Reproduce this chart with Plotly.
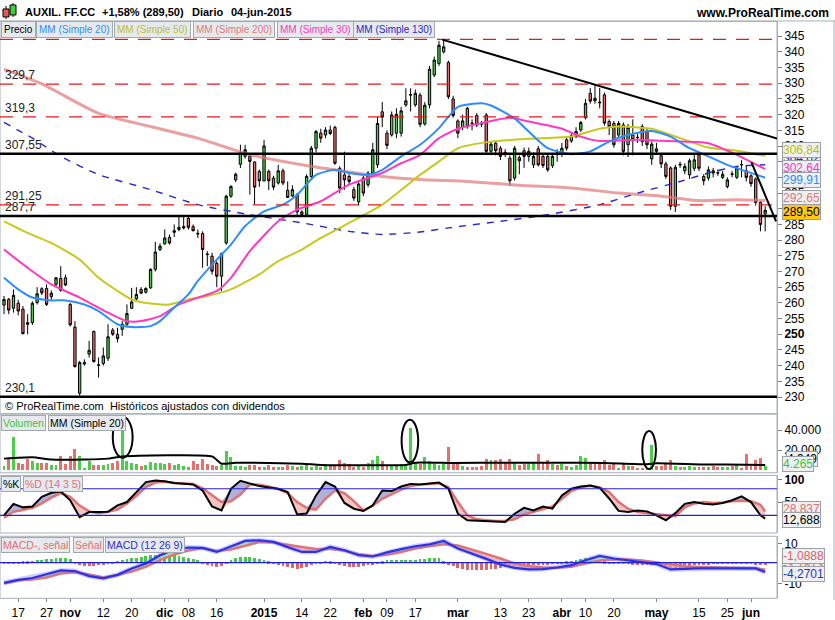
import plotly.graph_objects as go
import pandas as pd

# ---------------- data ----------------
holidays = ['2014-12-25', '2014-12-26', '2015-01-01', '2015-04-03', '2015-04-06', '2015-05-01']
dates = [d.strftime('%Y-%m-%d') for d in pd.bdate_range('2014-10-14', '2015-06-04')
         if d.strftime('%Y-%m-%d') not in holidays]
idx = list(range(len(dates)))

opens = [259.3, 261.1, 258.3, 259.9, 258.0, 253.7, 253.7, 260.1, 264.5, 264.6,
         262.0, 265.9, 267.8, 268.0, 259.5, 252.3, 231.2, 240.5, 243.7, 250.9,
         240.3, 240.7, 242.4, 251.3, 250.0, 251.6, 253.2, 258.3, 261.3, 264.3,
         263.4, 264.8, 270.7, 277.0, 278.8, 280.9, 282.5, 283.4, 283.9, 286.9,
         284.3, 282.2, 282.1, 275.6, 274.9, 272.6, 268.5, 279.1, 294.0, 299.2,
         304.2, 306.7, 306.7, 304.9, 301.9, 298.9, 301.9, 299.8, 298.2, 302.1,
         295.9, 294.1, 294.5, 288.2, 288.2, 300.3, 309.3, 314.1, 313.5, 315.1,
         315.9, 302.9, 300.8, 300.3, 296.1, 292.2, 299.8, 297.7, 301.4, 304.0,
         320.9, 314.1, 313.5, 314.1, 314.1, 323.1, 326.2, 323.1, 326.2, 317.0,
         323.1, 332.6, 336.3, 340.0, 336.6, 325.0, 318.0, 315.9, 322.0, 317.3,
         319.7, 317.3, 319.9, 308.3, 310.9, 309.3, 308.0, 306.1, 299.8, 306.3,
         308.5, 306.7, 304.0, 309.1, 306.7, 306.7, 303.8, 307.8, 307.7, 312.0,
         311.6, 313.0, 315.1, 319.0, 326.8, 325.2, 324.0, 326.3, 317.8, 317.2,
         313.5, 316.7, 310.4, 313.5, 312.8, 316.2, 314.6, 305.9, 309.1, 306.9,
         304.3, 303.0, 290.8, 304.2, 302.1, 300.8, 302.9, 307.2, 300.3, 299.8,
         302.1, 301.5, 300.0, 297.1, 301.1, 300.0, 304.1, 302.1, 300.5, 299.5,
         292.0, 288.4]
highs = [262.2, 261.6, 264.3, 261.0, 259.0, 256.4, 260.5, 265.0, 265.0, 265.9,
         264.0, 268.2, 271.7, 269.0, 260.0, 254.2, 241.5, 242.0, 247.9, 251.2,
         242.6, 245.8, 253.2, 252.0, 252.1, 254.2, 259.5, 264.8, 265.0, 265.0,
         265.0, 271.0, 279.5, 279.0, 283.4, 281.8, 285.0, 287.6, 287.6, 287.6,
         285.0, 283.4, 282.8, 276.5, 276.0, 273.3, 276.0, 294.5, 297.5, 301.5,
         310.4, 310.4, 307.2, 305.1, 302.5, 311.9, 302.5, 300.5, 304.0, 302.8,
         298.7, 297.5, 295.0, 289.5, 301.0, 310.0, 315.1, 315.5, 316.0, 316.5,
         316.5, 303.5, 308.2, 301.0, 297.0, 299.0, 300.5, 302.0, 311.0, 319.3,
         324.0, 315.0, 321.0, 322.0, 322.5, 328.4, 328.4, 328.0, 327.0, 324.0,
         335.5, 338.5, 343.5, 344.0, 337.2, 326.0, 318.5, 320.0, 322.5, 318.5,
         320.5, 318.0, 320.5, 311.5, 311.5, 310.0, 309.0, 307.0, 310.0, 307.0,
         309.5, 309.5, 308.0, 310.0, 307.5, 307.2, 307.5, 309.0, 311.0, 313.0,
         314.0, 316.0, 318.0, 325.0, 328.5, 329.5, 328.5, 327.0, 318.5, 318.0,
         318.0, 317.5, 317.0, 318.5, 314.0, 317.0, 315.5, 311.5, 311.0, 307.5,
         305.0, 303.5, 304.0, 305.0, 304.5, 306.0, 307.5, 308.0, 301.0, 303.5,
         303.0, 302.5, 302.0, 300.0, 302.0, 303.5, 305.5, 304.0, 301.0, 300.0,
         292.5, 290.8]
lows = [256.4, 256.4, 256.9, 256.0, 250.0, 250.0, 253.0, 259.5, 262.5, 259.0,
        261.0, 265.0, 263.6, 265.4, 252.5, 239.4, 230.4, 240.0, 242.6, 241.0,
        236.2, 240.0, 241.5, 249.5, 247.4, 249.5, 252.7, 258.0, 260.6, 262.8,
        263.0, 264.5, 270.0, 276.5, 278.6, 278.6, 281.0, 282.8, 283.4, 283.4,
        282.8, 280.7, 271.2, 271.7, 269.0, 265.0, 263.8, 278.5, 293.5, 298.5,
        303.0, 306.0, 294.5, 291.3, 297.0, 298.7, 296.0, 296.0, 297.7, 297.5,
        293.4, 293.7, 288.0, 287.8, 287.8, 299.5, 308.0, 311.0, 312.5, 313.5,
        304.0, 295.0, 296.1, 297.5, 292.5, 291.0, 294.0, 296.9, 300.5, 303.0,
        316.0, 309.0, 313.0, 312.5, 313.0, 322.5, 321.0, 322.5, 316.0, 316.5,
        322.0, 332.0, 335.5, 339.5, 325.0, 319.0, 312.5, 315.0, 315.5, 315.0,
        316.0, 316.0, 307.5, 307.5, 307.0, 305.5, 306.5, 297.3, 299.0, 301.0,
        303.0, 305.0, 303.0, 303.5, 303.0, 301.8, 303.0, 305.0, 306.5, 308.5,
        311.0, 312.5, 314.5, 318.5, 323.5, 323.5, 322.0, 316.5, 313.5, 309.5,
        312.5, 307.0, 306.5, 307.0, 311.0, 310.0, 309.0, 304.0, 307.5, 303.0,
        299.5, 289.6, 289.0, 303.0, 301.0, 299.5, 302.0, 302.0, 297.5, 299.0,
        300.0, 300.5, 299.5, 296.5, 300.0, 299.5, 300.0, 298.7, 297.0, 291.0,
        282.8, 282.8]
closes = [261.1, 257.7, 262.4, 257.4, 250.2, 253.2, 259.9, 262.9, 263.2, 259.5,
          263.1, 268.0, 264.0, 265.7, 253.0, 239.7, 241.0, 241.0, 244.9, 241.3,
          240.1, 243.1, 249.2, 250.0, 248.6, 253.2, 256.6, 260.3, 262.7, 263.1,
          264.6, 270.7, 276.2, 278.1, 280.7, 279.1, 283.0, 284.1, 284.3, 284.1,
          283.0, 282.0, 277.0, 275.4, 270.1, 268.5, 275.7, 294.0, 297.1, 301.0,
          307.7, 308.8, 305.1, 296.9, 298.9, 310.0, 298.9, 296.9, 302.1, 298.2,
          293.6, 296.1, 289.0, 289.0, 300.3, 309.3, 314.6, 312.5, 315.1, 314.0,
          304.5, 296.6, 299.2, 298.7, 293.4, 297.9, 295.0, 301.4, 308.8, 317.2,
          319.2, 310.2, 319.9, 320.1, 321.2, 324.4, 326.4, 326.8, 316.9, 323.0,
          334.5, 337.4, 342.1, 341.6, 325.7, 319.7, 314.1, 318.0, 316.2, 317.2,
          316.7, 317.0, 308.3, 310.6, 308.5, 306.7, 307.8, 298.9, 309.3, 305.3,
          306.7, 308.3, 306.7, 304.0, 303.8, 302.4, 306.7, 307.7, 309.3, 309.3,
          313.3, 314.6, 317.5, 323.6, 324.3, 324.4, 323.8, 317.3, 316.2, 310.4,
          317.2, 308.3, 315.9, 312.0, 312.7, 311.4, 310.4, 310.6, 308.3, 304.3,
          300.3, 290.8, 303.2, 304.0, 303.5, 305.3, 305.6, 302.9, 298.9, 302.4,
          301.4, 301.4, 301.0, 299.2, 301.0, 303.0, 304.0, 300.0, 298.0, 292.0,
          285.0, 289.5]
volume_k = [4.1, 10.5, 32.7, 7.3, 5.7, 10.5, 8.9, 7.3, 7.3, 6.7,
            5.1, 5.1, 14.3, 5.7, 13.6, 20.9, 13.6, 1.9, 8.9, 5.1,
            5.1, 5.1, 6.3, 7.3, 8.9, 46.9, 8.9, 7.3, 5.7, 4.1,
            5.1, 8.2, 7.3, 7.3, 5.7, 6.7, 5.1, 6.3, 4.1, 3.2,
            8.9, 5.7, 10.5, 6.3, 5.1, 4.1, 5.1, 19.0, 13.0, 4.1,
            4.1, 2.5, 4.4, 4.4, 3.2, 2.5, 4.4, 3.2, 3.2, 3.2,
            5.1, 3.8, 3.2, 3.8, 4.4, 2.5, 4.1, 3.2, 5.7, 5.1,
            4.1, 9.5, 7.3, 5.7, 3.2, 4.1, 3.2, 7.3, 9.5, 13.6,
            8.9, 5.1, 4.4, 4.1, 5.7, 5.1, 42.2, 7.3, 6.0, 12.7,
            8.9, 5.7, 5.1, 5.7, 22.5, 7.3, 7.3, 4.1, 3.2, 3.2,
            3.2, 4.1, 10.5, 9.5, 9.5, 10.5, 7.3, 10.5, 7.3, 5.1,
            6.3, 7.3, 7.3, 15.9, 7.3, 9.5, 6.3, 5.1, 5.7, 4.1,
            3.2, 5.1, 13.6, 11.4, 7.3, 7.3, 7.3, 9.5, 5.1, 7.3,
            1.9, 7.3, 4.1, 4.1, 1.9, 1.9, 1.9, 25.4, 4.1, 4.1,
            5.7, 9.5, 4.1, 2.5, 3.2, 4.1, 3.2, 2.5, 3.2, 2.5,
            4.1, 3.2, 3.2, 3.2, 4.1, 5.7, 1.9, 15.9, 4.1, 9.5,
            11.4, 4.265]
volumes = [v * 1000 for v in volume_k]

# moving averages
mm20_i = [0, 3, 6, 10, 13, 17, 20, 24, 27, 31, 33, 36, 39, 41, 45, 48, 51, 55, 59, 62, 66, 70, 73, 77,
          80, 84, 88, 92, 96, 101, 103, 108, 111, 115, 120, 124, 128, 132, 137, 141, 145, 149, 153, 157, 161]
mm20_v = [268.0, 264.3, 261.7, 260.8, 260.8, 259.5, 257.4, 253.2, 252.3, 252.6, 254.2, 258.5, 262.7, 267.0,
          273.8, 278.6, 284.5, 289.2, 291.3, 294.5, 300.8, 302.4, 301.4, 300.8, 302.4, 306.7, 310.4, 315.7,
          322.5, 323.6, 322.9, 318.8, 314.6, 309.3, 307.4, 308.3, 311.4, 313.5, 314.8, 313.0, 309.3, 306.7,
          304.0, 301.9, 299.91]
mm30_i = [0, 5, 10, 16, 22, 26, 29, 33, 37, 41, 45, 48, 52, 55, 58, 62, 67, 73, 80, 84, 88, 92, 96, 101,
          107, 111, 118, 122, 126, 134, 143, 149, 155, 161]
mm30_v = [277.0, 271.2, 265.9, 261.7, 256.9, 254.2, 254.2, 255.8, 259.5, 261.7, 263.8, 268.0, 276.5, 281.5,
          286.0, 289.7, 292.4, 297.7, 301.4, 304.5, 307.2, 312.5, 315.5, 317.3, 319.0, 317.8, 315.5, 313.0,
          311.6, 312.0, 311.4, 310.9, 307.2, 302.64]
mm50_i = [0, 5, 10, 16, 20, 24, 27, 31, 35, 39, 43, 48, 54, 58, 63, 67, 73, 80, 88, 92, 96, 103, 111, 120,
          126, 130, 137, 143, 149, 155, 161]
mm50_v = [286.0, 282.3, 279.1, 273.8, 268.0, 263.8, 261.1, 259.8, 259.5, 261.1, 262.2, 264.3, 269.1, 273.3,
          277.0, 280.7, 285.5, 291.3, 300.8, 305.1, 309.3, 311.4, 312.3, 313.0, 315.5, 316.2, 315.5, 312.5,
          309.5, 308.5, 306.84]
mm200_i = [0, 8, 20, 31, 41, 52, 63, 73, 80, 88, 98, 109, 120, 130, 139, 147, 155, 161]
mm200_v = [334.5, 329.8, 320.4, 316.2, 312.5, 307.2, 304.0, 301.7, 300.3, 299.3, 298.7, 297.5, 296.6, 295.0,
           294.0, 292.6, 292.9, 292.65]
mm130_i = [0, 6, 12, 20, 31, 41, 52, 63, 73, 80, 88, 94, 105, 115, 126, 134, 143, 149, 155, 161]
mm130_v = [317.5, 312.5, 306.7, 300.9, 296.1, 291.3, 288.1, 285.5, 282.8, 281.8, 282.6, 283.9, 286.0, 288.1,
           291.3, 295.0, 298.7, 301.4, 303.5, 304.02]

# volume MM20 (thousands)
vma_i = [0, 6, 10, 17, 22, 25, 44, 46, 49, 63, 67, 85, 87, 95, 106, 118, 127, 136, 138, 148, 157, 161]
vma_k = [11.4, 12.7, 10.5, 10.5, 11.4, 13.6, 13.6, 6.3, 7.3, 6.3, 5.1, 5.1, 7.3, 7.0, 7.3, 7.3, 7.0, 5.8,
         6.8, 5.5, 5.3, 4.95]

# stochastic %K / %D (14 3 5)
sto_i = list(range(0, 161, 2)) + [161]
sto_k = [20, 46, 38, 40, 62, 71, 74, 54, 16, 27.5, 27.5, 28, 42.5, 50, 72.4, 95, 98.6, 97, 93, 90.5,
         89.6, 76, 40, 31, 80, 98, 92, 86, 83, 80, 72.4, 22, 24, 65, 95, 85, 48, 35, 29.7, 42.5,
         76, 74.7, 85, 91, 89.6, 92, 94, 80, 23.7, 8.8, 8, 7.3, 5.5, 5, 23.7, 37, 31, 40, 35, 65,
         80, 85, 87.4, 82, 58, 30, 27.5, 31, 29, 20, 9, 25, 46, 50, 46, 44.7, 48, 54, 62.7, 50,
         20, 12.688]
sto_d = [14.7, 28, 32, 37, 47, 60, 70, 62, 42, 29, 25, 28, 33, 47, 64, 83.6, 94, 96, 93, 92,
         91, 81, 65, 50, 52, 67, 90, 89, 85, 79, 70, 50, 37, 33, 57.4, 76, 70, 52, 31, 42,
         57.4, 68, 78, 86, 89.6, 91, 92.6, 83.6, 50, 20, 11, 9, 7.5, 8, 11, 22, 28, 34, 40, 57.4,
         75, 83, 87, 83, 72.4, 50, 35, 27.5, 25, 23.7, 20, 18, 38, 47, 50, 48, 49, 52, 53, 52,
         44, 28.837]

# MACD (12 26 9)
macd_i = list(range(0, 160, 3)) + [161]
macd_v = [-9.7, -8.2, -7.3, -5.3, -3.5, -3.8, -6.35, -7.5, -5.7, -2.5, 0, 4.15, 7.0, 8.0, 7.8, 5.8,
          8.65, 11.3, 11.65, 10.8, 8.2, 5.8, 5.8, 8.3, 6.65, 4.15, 3.5, 5.6, 7.2, 8.65, 9.6, 11.3,
          7.5, 5.0, 2.3, -0.5, -2.2, -3.0, -2.8, -2.0, -0.85, 1.65, 3.8, 2.5, 1.65, 0.6, -0.3, -3.0,
          -2.7, -2.5, -2.5, -2.5, -2.2, -2.5, -4.2701]
signal_v = [-10, -8.4, -8.0, -7.0, -5.0, -4.4, -5.5, -7.0, -5.8, -4.0, -1.7, 1.65, 4.5, 6.5, 7.7, 6.3,
            7.0, 8.8, 10.8, 10.5, 9.3, 8.3, 7.3, 7.3, 6.5, 4.6, 3.8, 4.4, 5.8, 7.5, 8.6, 9.7,
            9.0, 7.0, 4.8, 2.5, 0, -1.3, -2.0, -2.1, -1.7, 0, 1.5, 2.1, 2.0, 1.5, 0.6, -0.5,
            -1.4, -1.8, -2.0, -2.1, -2.3, -2.4, -3.1813]
hist_v = [0.6, 0.7, 0.8, 0.8, 0.9, 1.0, 1.2,
          1.4, 1.7, 2.0, 2.2, 2.4, 2.5, 2.4, 2.0,
          0.8, -0.8, -1.2, -1.3, -1.2, -1.0, -0.6,
          0.3, 0.8, 1.2, 1.6, 2.0, 2.4, 2.8,
          3.2, 3.6, 4.0, 4.3, 4.5, 4.5, 4.3, 4.0, 3.6, 3.2,
          2.6, 2.0, 1.4, 0.8,
          -0.5, -1.5, -1.7, -1.2,
          0.5, 1.5, 2.5, 3.0, 3.2, 3.2, 2.8, 2.3, 1.6, 1.0,
          0.3, -0.6, -1.5,
          -2.0, -2.4, -2.7, -2.5, -2.0,
          -1.0, 0.3, 0.8,
          1.2, 1.0, 0.6,
          -0.5, -1.2, -1.7, -1.8, -1.7, -1.5, -1.0, -0.4,
          0.5, 1.0, 1.4, 1.5, 1.5, 1.5, 1.6, 1.6, 1.7,
          2.0, 2.3, 2.6, 2.8, 2.6, 1.0,
          -0.8, -1.5, -2.2, -2.8, -3.3, -3.5, -3.5, -3.4, -3.2, -3.0, -2.7, -2.4, -2.1, -1.8, -1.5,
          -1.3, -1.2, -1.0,
          -0.6, -0.5, -0.5, -0.4, -0.3, -0.2,
          0.6, 1.0, 1.3, 1.6, 2.0, 2.4, 2.5, 2.3, 1.8, 1.0,
          0.5, 0.3, 0.2, 0.1, -0.2, -0.4,
          -0.5, -0.5, -0.6, -0.6,
          -0.9, -1.3, -1.8, -2.2, -2.3, -2.2, -2.0, -1.6, -1.0,
          -0.6, -0.5, -0.4, -0.3, -0.2, -0.1,
          0.2, 0.6, 0.8, 0.8,
          0.8, 0.5,
          -0.4, -0.9, -1.0888]

# horizontal levels
red_levels = [344.0, 329.7, 319.3, 291.25]
black_levels = [307.55, 287.7, 230.1]
level_labels = {329.7: '329,7', 319.3: '319,3', 307.55: '307,55', 291.25: '291,25', 287.7: '287,7', 230.1: '230,1'}

tick_dates = ['2014-10-17', '2014-10-27', '2014-11-03', '2014-11-12', '2014-11-20', '2014-12-01',
              '2014-12-08', '2014-12-16', '2015-01-02', '2015-01-14', '2015-01-22', '2015-02-02',
              '2015-02-09', '2015-02-17', '2015-03-02', '2015-03-13', '2015-03-23', '2015-04-01',
              '2015-04-10', '2015-04-20', '2015-05-04', '2015-05-15', '2015-05-25', '2015-06-01']
tick_text = ['17', '27', '<b>nov</b>', '12', '20', '<b>dic</b>', '08', '16', '<b>2015</b>', '14', '22',
             '<b>feb</b>', '09', '17', '<b>mar</b>', '13', '23', '<b>abr</b>', '10', '20', '<b>may</b>',
             '15', '25', '<b>jun</b>']
tick_pos = [dates.index(d) for d in tick_dates]

# ---------------- figure ----------------
FONT = 'Liberation Sans, Arial, sans-serif'
W, H = 835, 620
XR = 777 / W


def PX(x):
    return x / W


def PY(y):
    return 1 - y / H


GREEN = '#46d246'
RED = '#e8706c'
fig = go.Figure()

# candles
fig.add_trace(go.Candlestick(
    x=idx, open=opens, high=highs, low=lows, close=closes,
    increasing=dict(fillcolor=GREEN, line=dict(color='black', width=1)),
    decreasing=dict(fillcolor=RED, line=dict(color='black', width=1)),
    whiskerwidth=0, showlegend=False, hoverinfo='skip', xaxis='x', yaxis='y'))

# moving averages
ma_specs = [
    (mm200_i, mm200_v, 'rgba(226,120,120,0.7)', 3, 'solid'),
    (mm130_i, mm130_v, '#2828c8', 1.4, '7px,7px'),
    (mm50_i, mm50_v, '#c8c81e', 2, 'solid'),
    (mm30_i, mm30_v, '#ff38c0', 2, 'solid'),
    (mm20_i, mm20_v, '#2f8cff', 2, 'solid'),
]
for xi, yv, col, wd, dash in ma_specs:
    fig.add_trace(go.Scatter(x=xi, y=yv, mode='lines', line=dict(color=col, width=wd, dash=dash, shape='spline',
                                                                     smoothing=0.6),
                             showlegend=False, hoverinfo='skip', xaxis='x', yaxis='y'))

# volume
vcol = [GREEN if c >= o else RED for o, c in zip(opens, closes)]
fig.add_trace(go.Bar(x=idx, y=volumes, marker=dict(color=vcol, line=dict(width=0)), width=0.62,
                     showlegend=False, hoverinfo='skip', xaxis='x2', yaxis='y2'))
fig.add_trace(go.Scatter(x=vma_i, y=[v * 1000 for v in vma_k], mode='lines',
                         line=dict(color='black', width=2, shape='spline', smoothing=0.5),
                         showlegend=False, hoverinfo='skip', xaxis='x2', yaxis='y2'))


def band(xs, a, b, up_col, dn_col, xa, ya):
    hi = [max(p, q) for p, q in zip(a, b)]
    lo = [min(p, q) for p, q in zip(a, b)]
    common = dict(mode='lines', line=dict(width=0), showlegend=False, hoverinfo='skip', xaxis=xa, yaxis=ya)
    fig.add_trace(go.Scatter(x=xs, y=b, **common))
    fig.add_trace(go.Scatter(x=xs, y=hi, fill='tonexty', fillcolor=up_col, **common))
    fig.add_trace(go.Scatter(x=xs, y=b, **common))
    fig.add_trace(go.Scatter(x=xs, y=lo, fill='tonexty', fillcolor=dn_col, **common))


# stochastic
band(sto_i, sto_k, sto_d, 'rgba(150,150,205,0.75)', 'rgba(242,170,170,0.7)', 'x3', 'y3')
fig.add_trace(go.Scatter(x=sto_i, y=sto_d, mode='lines', line=dict(color='#e07474', width=2.5),
                         showlegend=False, hoverinfo='skip', xaxis='x3', yaxis='y3'))
fig.add_trace(go.Scatter(x=sto_i, y=sto_k, mode='lines', line=dict(color='black', width=2),
                         showlegend=False, hoverinfo='skip', xaxis='x3', yaxis='y3'))

# MACD
band(macd_i, macd_v, signal_v, 'rgba(170,240,170,0.85)', 'rgba(242,170,170,0.7)', 'x4', 'y4')
hcol = ['#44cc44' if v >= 0 else '#e06464' for v in hist_v]
fig.add_trace(go.Bar(x=idx, y=hist_v, marker=dict(color=hcol, line=dict(width=0)), width=0.6,
                     showlegend=False, hoverinfo='skip', xaxis='x4', yaxis='y4'))
fig.add_trace(go.Scatter(x=macd_i, y=signal_v, mode='lines', line=dict(color='#e07474', width=2.5),
                         showlegend=False, hoverinfo='skip', xaxis='x4', yaxis='y4'))
fig.add_trace(go.Scatter(x=macd_i, y=macd_v, mode='lines', line=dict(color='rgba(120,120,255,0.35)', width=5),
                         showlegend=False, hoverinfo='skip', xaxis='x4', yaxis='y4'))
fig.add_trace(go.Scatter(x=macd_i, y=macd_v, mode='lines', line=dict(color='#2f2fe6', width=2.2),
                         showlegend=False, hoverinfo='skip', xaxis='x4', yaxis='y4'))

# ---------------- layout ----------------
XRANGE = [-0.85, 163.5]
GRAY = '#a8b0b8'
xbase = dict(range=XRANGE, domain=[0, XR], showgrid=False, zeroline=False, showline=False, fixedrange=True)
ybase = dict(side='right', showgrid=False, zeroline=False, showline=True, linecolor=GRAY, linewidth=1,
             ticks='outside', ticklen=4, tickcolor='#808080',
             tickfont=dict(family=FONT, size=12, color='black'))

main_ticks = list(range(230, 346, 5))
main_text = ['<b>250</b>' if v == 250 else str(v) for v in main_ticks]

fig.update_layout(
    width=W, height=H, margin=dict(l=0, r=0, t=0, b=0), autosize=False,
    paper_bgcolor='white', plot_bgcolor='white', showlegend=False,
    font=dict(family=FONT, size=12, color='black'),
    bargap=0,
    xaxis=dict(**xbase, anchor='y', showticklabels=False, rangeslider=dict(visible=False)),
    xaxis2=dict(**xbase, anchor='y2', matches='x', showticklabels=False),
    xaxis3=dict(**xbase, anchor='y3', matches='x', showticklabels=False),
    xaxis4=dict(**xbase, anchor='y4', matches='x', tickmode='array', tickvals=tick_pos, ticktext=tick_text,
                ticks='outside', ticklen=3, tickcolor='#808080',
                tickfont=dict(family=FONT, size=12, color='black')),
    yaxis=dict(**ybase, anchor='x', domain=[PY(413), PY(19.5)], range=[224.7, 349.7],
               tickmode='array', tickvals=main_ticks, ticktext=main_text),
    yaxis2=dict(**ybase, anchor='x2', domain=[PY(472.3), PY(413.5)], range=[-2800, 56000],
                tickmode='array', tickvals=[20000, 40000], ticktext=['20.000', '40.000']),
    yaxis3=dict(**ybase, anchor='x3', domain=[PY(532.7), PY(475)], range=[-19.8, 110],
                tickmode='array', tickvals=[50, 100], ticktext=['50', '<b>100</b>']),
    yaxis4=dict(**ybase, anchor='x4', domain=[PY(598.3), PY(536)], range=[-17.5, 13.65],
                tickmode='array', tickvals=[-10, 10], ticktext=['-10', '10']),
)

shapes = []
# panel frames
for top, bot in [(19.5, 413), (413.5, 472.3), (475, 532.7), (536, 598.3)]:
    shapes.append(dict(type='rect', xref='paper', yref='paper', x0=0, x1=XR, y0=PY(bot), y1=PY(top),
                       line=dict(color=GRAY, width=1), layer='above'))
shapes.append(dict(type='line', xref='paper', yref='paper', x0=0, x1=1, y0=PY(19), y1=PY(19),
                   line=dict(color=GRAY, width=1)))
shapes.append(dict(type='line', xref='paper', yref='paper', x0=PX(834), x1=PX(834), y0=PY(600), y1=PY(19),
                   line=dict(color=GRAY, width=1)))
# level lines
for lv in red_levels:
    shapes.append(dict(type='line', xref='paper', yref='y', x0=0, x1=XR, y0=lv, y1=lv,
                       line=dict(color='#e81818', width=1.2, dash='13px,10px')))
for lv in black_levels:
    shapes.append(dict(type='line', xref='paper', yref='y', x0=0, x1=XR, y0=lv, y1=lv,
                       line=dict(color='black', width=2.6)))
# trend lines
shapes.append(dict(type='line', xref='x', yref='y', x0=92.7, y0=343.9, x1=163.5, y1=312.4,
                   line=dict(color='black', width=2)))
shapes.append(dict(type='line', xref='x', yref='y', x0=158.1, y0=304.8, x1=163.3, y1=286.0,
                   line=dict(color='black', width=2)))
# stochastic 80/20 lines and MACD zero line
for lv in (80, 20):
    shapes.append(dict(type='line', xref='paper', yref='y3', x0=0, x1=XR, y0=lv, y1=lv,
                       line=dict(color='#2020d8', width=1.2)))
shapes.append(dict(type='line', xref='paper', yref='y4', x0=0, x1=XR, y0=0.4, y1=0.4,
                   line=dict(color='#2020d8', width=1.2)))
# ellipses around volume spikes
for x0, x1, y0, y1 in [(23.0, 27.2, 12400, 53300), (84.1, 87.6, 7600, 50500), (135.0, 137.9, 950, 39000)]:
    shapes.append(dict(type='circle', xref='x2', yref='y2', x0=x0, x1=x1, y0=y0, y1=y1,
                       line=dict(color='black', width=2)))
# header icon
shapes.append(dict(type='line', xref='paper', yref='paper', x0=PX(6), x1=PX(6), y0=PY(17), y1=PY(4),
                   line=dict(color='black', width=1)))
shapes.append(dict(type='rect', xref='paper', yref='paper', x0=PX(3), x1=PX(9), y0=PY(15), y1=PY(7),
                   fillcolor='#e8585a', line=dict(color='black', width=1)))
shapes.append(dict(type='line', xref='paper', yref='paper', x0=PX(13), x1=PX(13), y0=PY(15), y1=PY(1),
                   line=dict(color='black', width=1)))
shapes.append(dict(type='rect', xref='paper', yref='paper', x0=PX(10), x1=PX(16), y0=PY(13), y1=PY(3),
                   fillcolor='#40d040', line=dict(color='black', width=1)))
fig.update_layout(shapes=shapes)

ann = []


def text(t, x, y, color='black', size=11, bold=False, xanchor='left', bg=None, border=None, pad=1):
    d = dict(text=('<b>%s</b>' % t) if bold else t, xref='paper', yref='paper', x=PX(x), y=PY(y),
             xanchor=xanchor, yanchor='middle', showarrow=False,
             font=dict(family=FONT, size=size, color=color))
    if bg:
        d['bgcolor'] = bg
    if border:
        d['bordercolor'] = border
        d['borderwidth'] = 1
        d['borderpad'] = pad
    ann.append(d)


# header
text('AUXIL. FF.CC', 23, 10.5, bold=True)
text('+1,58% (289,50)', 100, 10.5, bold=True)
text('Diario', 190, 10.5, bold=True)
text('04-jun-2015', 229, 10.5, bold=True)
text('www.ProRealTime.com', 831, 11, bold=True, xanchor='right', size=12)

# legend boxes
LBG = '#e6eaee'
LBD = '#a0a8b0'
for label, col, x in [('Precio', 'black', 1), ('MM (Simple 20)', '#2f8cff', 36),
                      ('MM (Simple 50)', '#c0c01a', 114), ('MM (Simple 200)', '#e07878', 193),
                      ('MM (Simple 30)', '#ff38c0', 277), ('MM (Simple 130)', '#2828c8', 353)]:
    text(label, x, 27.5, color=col, size=10, bg=LBG, border=LBD, pad=2)
for label, col, x in [('Volumen', '#40c040', 1), ('MM (Simple 20)', 'black', 48)]:
    text(label, x, 422, color=col, size=10.5, bg=LBG, border=LBD, pad=1)
for label, col, x in [('%K', 'black', 1), ('%D (14 3 5)', '#e07070', 23)]:
    text(label, x, 483.5, color=col, size=10.5, bg=LBG, border=LBD, pad=1)
for label, col, x in [('MACD-, señal', '#e07070', 1), ('Señal', '#e07070', 73), ('MACD (12 26 9)', '#3030d0', 105)]:
    text(label, x, 544.5, color=col, size=10.5, bg=LBG, border=LBD, pad=1)

# level labels
for lv, lab in level_labels.items():
    ann.append(dict(text=lab, xref='paper', yref='y', x=PX(3), y=lv, xanchor='left', yanchor='bottom',
                    yshift=0, showarrow=False, font=dict(family=FONT, size=12, color='#222')))

text('© ProRealTime.com  Históricos ajustados con dividendos', 3, 405, size=11)

# right value tags
TBG = '#eef0f2'
TBD = '#9aa0a8'
for t, col, y, bg, x in [('304,02', '#2a2aa0', 157, TBG, 782), ('306,84', '#c0c000', 148.5, TBG, 782),
                         ('302,64', '#ff30c0', 166.5, TBG, 782), ('299,91', '#2f8cff', 179, TBG, 782),
                         ('292,65', '#e07878', 196.5, TBG, 782), ('289,50', 'black', 210.5, '#ffc814', 782),
                         ('4.949', 'black', 458.5, TBG, 786), ('4.265', '#40c040', 463.5, TBG, 782),
                         ('28,837', '#e07070', 508.5, TBG, 782), ('12,688', 'black', 520, TBG, 782),
                         ('-3,1813', '#e07070', 564.5, TBG, 782), ('-1,0888', '#e06060', 556, TBG, 782),
                         ('-4,2701', '#3030d0', 573.5, TBG, 782)]:
    text(t, x, y, color=col, size=12, bg=bg, border=TBD, pad=0)

fig.update_layout(annotations=ann)
fig.write_html('out.html')
